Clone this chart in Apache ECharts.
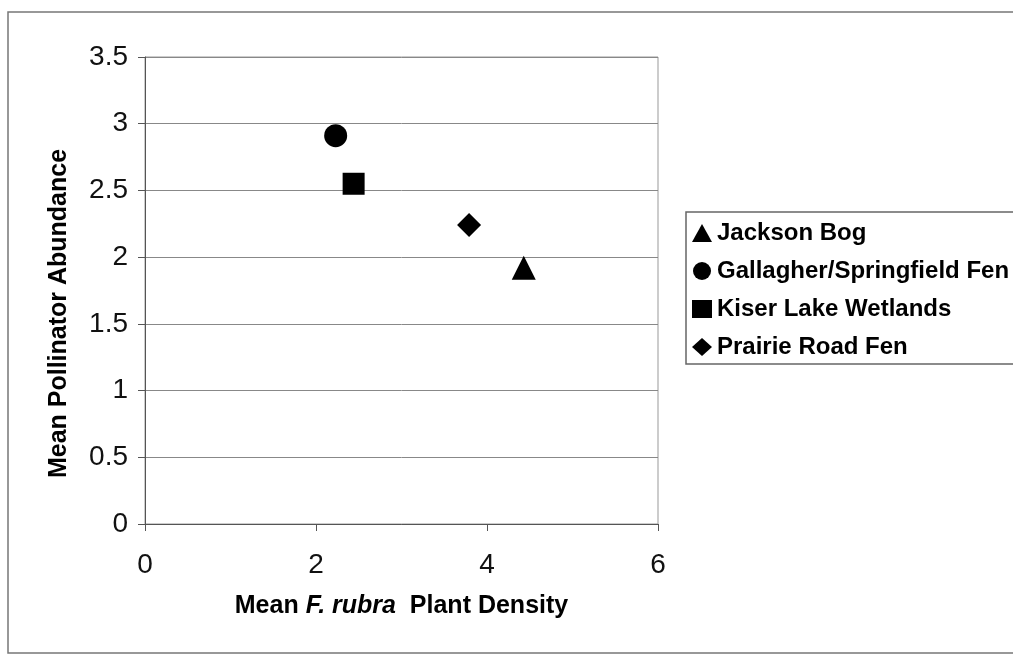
<!DOCTYPE html>
<html>
<head>
<meta charset="utf-8">
<script src="https://cdn.jsdelivr.net/npm/echarts@6/dist/echarts.min.js"></script>
<style>
  html, body { margin: 0; padding: 0; background: #fff; }
  #chart { width: 1013px; height: 656px; }
</style>
</head>
<body>
<div id="chart"></div>
<script>
// Sites and their mean values
const sites = ['Jackson Bog', 'Gallagher/Springfield Fen', 'Kiser Lake Wetlands', 'Prairie Road Fen'];
const symbols = ['triangle', 'circle', 'rect', 'diamond'];
const plantDensity = [4.43, 2.23, 2.44, 3.79];
const pollinatorAbundance = [1.92, 2.91, 2.55, 2.24];
const markerSizes = [24, 23, 22, 24];

const chart = echarts.init(document.querySelector('#chart'));

const font = 'Arial, "Liberation Sans", sans-serif';

const option = {
    animation: false,
    backgroundColor: '#fff',
    grid: { left: 145, top: 57, width: 513, height: 467, show: true, borderColor: '#999', borderWidth: 1 },
    graphic: [
        // outer frame of the chart sheet
        { type: 'rect', shape: { x: 8, y: 12, width: 1100, height: 641 }, style: { fill: 'none', stroke: '#777', lineWidth: 1.5 }, silent: true },
        // legend frame, running off the right edge
        { type: 'rect', shape: { x: 686, y: 212, width: 400, height: 152 }, style: { fill: 'none', stroke: '#666', lineWidth: 1.5 }, silent: true }
    ],
    legend: {
        left: 692,
        top: 221,
        orient: 'vertical',
        itemGap: 14,
        itemWidth: 20,
        itemHeight: 18,
        padding: 0,
        data: sites.map((name, i) => ({ name: name, icon: symbols[i] })),
        textStyle: { fontFamily: font, fontWeight: 'bold', fontSize: 24, lineHeight: 24, color: '#000' }
    },
    xAxis: {
        type: 'value',
        min: 0,
        max: 6,
        interval: 2,
        name: '{b|Mean }{i|F. rubra}{b|  Plant Density}',
        nameLocation: 'middle',
        nameGap: 70,
        nameTextStyle: {
            rich: {
                b: { fontFamily: font, fontWeight: 'bold', fontSize: 25, color: '#000' },
                i: { fontFamily: font, fontWeight: 'bold', fontStyle: 'italic', fontSize: 25, color: '#000' }
            }
        },
        axisLine: { onZero: false, lineStyle: { color: '#555', width: 1 } },
        axisTick: { show: true, inside: false, length: 7, lineStyle: { color: '#555' } },
        axisLabel: { fontFamily: font, fontSize: 28, color: '#111', margin: 27 },
        splitLine: { show: false }
    },
    yAxis: {
        type: 'value',
        min: 0,
        max: 3.5,
        interval: 0.5,
        name: 'Mean Pollinator Abundance',
        nameLocation: 'middle',
        nameGap: 73,
        nameTextStyle: { fontFamily: font, fontWeight: 'bold', fontSize: 25, color: '#000', padding: [0, 46, 0, 0] },
        axisLine: { show: true, lineStyle: { color: '#555', width: 1 } },
        axisTick: { show: true, inside: false, length: 7, lineStyle: { color: '#555' } },
        axisLabel: { fontFamily: font, fontSize: 28, color: '#111', margin: 17 },
        splitLine: { show: true, lineStyle: { color: '#888', width: 1 } }
    },
    series: sites.map((name, i) => ({
        name: name,
        type: 'scatter',
        symbol: symbols[i],
        symbolSize: markerSizes[i],
        itemStyle: { color: '#000', opacity: 1 },
        data: [[plantDensity[i], pollinatorAbundance[i]]]
    }))
};

chart.setOption(option);
</script>
</body>
</html>
